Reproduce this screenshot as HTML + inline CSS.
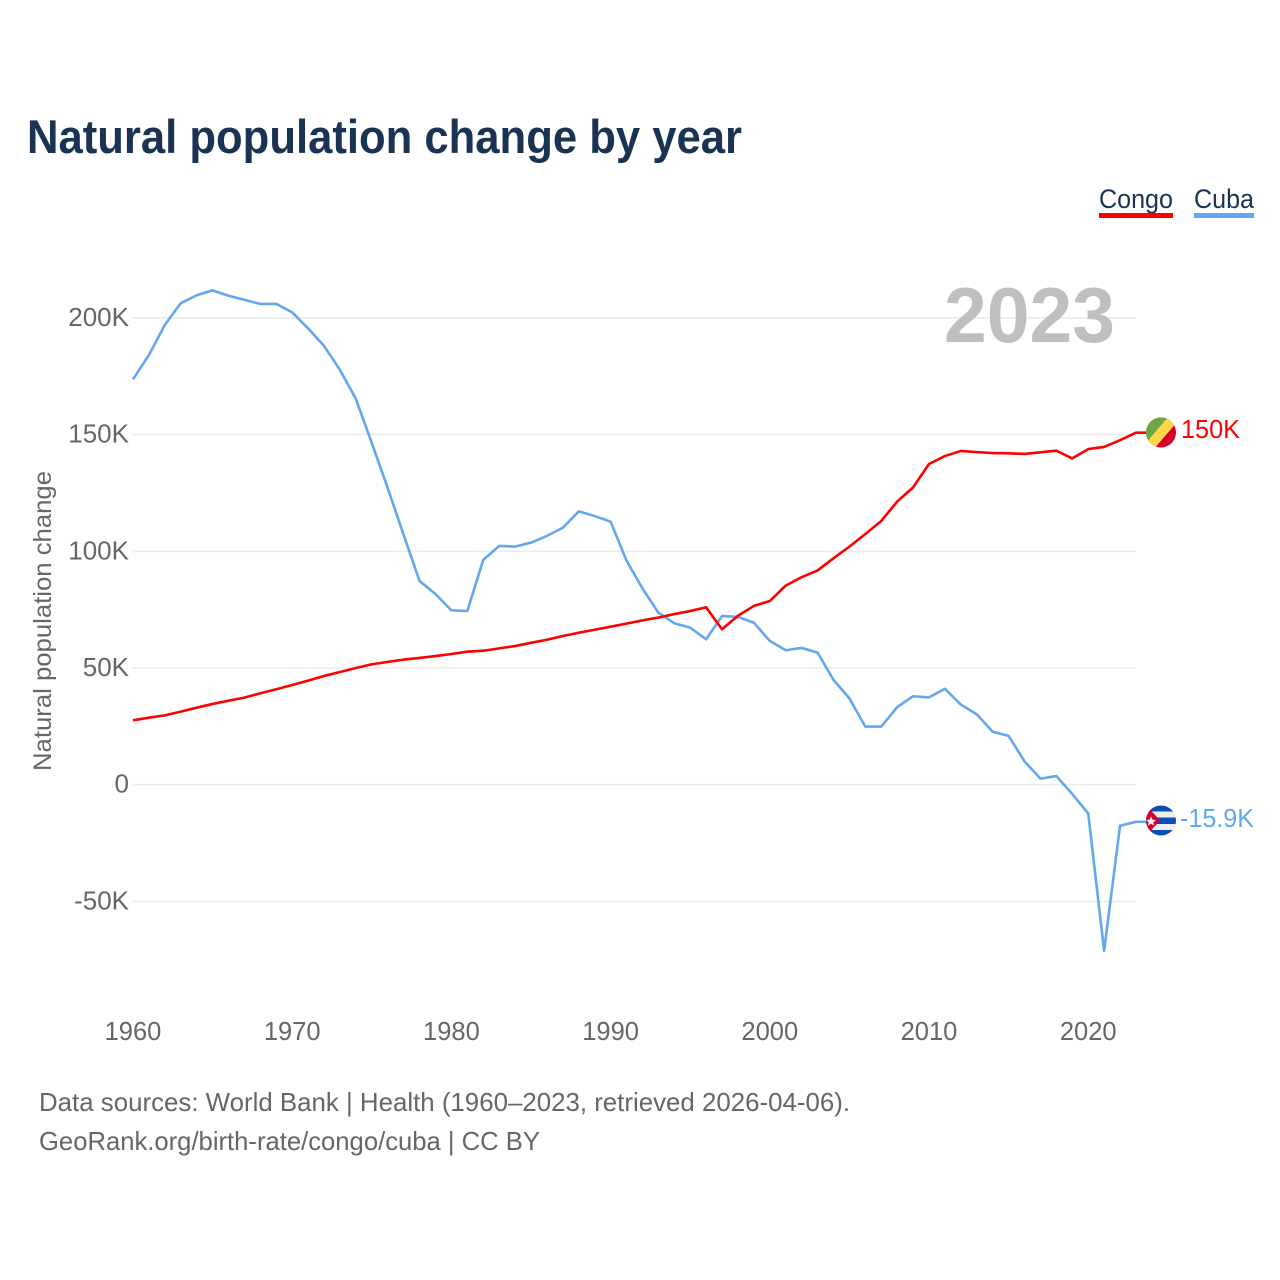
<!DOCTYPE html>
<html lang="en">
<head>
<meta charset="utf-8">
<title>Natural population change by year</title>
<style>
html,body{margin:0;padding:0;background:#fff;width:1280px;height:1280px;overflow:hidden}
svg{display:block;font-family:"Liberation Sans",sans-serif}
</style>
</head>
<body>
<svg id="chart" xmlns="http://www.w3.org/2000/svg" width="1280" height="1280" viewBox="0 0 1280 1280">
  <defs>
    <clipPath id="flag-clip-congo"><circle cx="1161" cy="432.5" r="15"/></clipPath>
    <clipPath id="flag-clip-cuba"><circle cx="1161" cy="820.5" r="15"/></clipPath>
  </defs>
  <rect width="1280" height="1280" fill="#fff"/>
  <text x="27" y="153" font-size="47" font-weight="700" fill="#1a3353" textLength="715" lengthAdjust="spacingAndGlyphs">Natural population change by year</text>

  <g>
    <g>
      <text x="1099" y="208" font-size="27" fill="#1a3353" textLength="74" lengthAdjust="spacingAndGlyphs">Congo</text>
      <rect x="1099" y="213" width="74" height="5" fill="#ff0000"/>
    </g>
    <g>
      <text x="1194" y="208" font-size="27" fill="#1a3353" textLength="60" lengthAdjust="spacingAndGlyphs">Cuba</text>
      <rect x="1194" y="213" width="60" height="5" fill="#62a8ee"/>
    </g>
  </g>

  <g id="grid"></g>
  <g id="y-ticks"></g>
  <g id="x-ticks"></g>

  <text x="944" y="342" font-size="78" font-weight="700" fill="#bfbfbf" textLength="171" lengthAdjust="spacingAndGlyphs">2023</text>
  <text transform="translate(51 621) rotate(-90)" text-anchor="middle" font-size="25" fill="#666" textLength="300" lengthAdjust="spacingAndGlyphs">Natural population change</text>

  <g id="series"></g>

  <g clip-path="url(#flag-clip-congo)">
    <rect x="1146" y="417" width="30" height="31" fill="#d6002f"/>
    <polygon points="1140,412 1173,412 1140,450" fill="#6fa644"/>
    <polygon points="1169,416 1145,444 1153,450 1178,421" fill="#ffd644"/>
  </g>
  <text id="end-label-congo" x="1181" y="438" font-size="25.5" fill="#ff0000" textLength="59" lengthAdjust="spacingAndGlyphs">150K</text>

  <g clip-path="url(#flag-clip-cuba)">
    <rect x="1146" y="805" width="30" height="31" fill="#eeeeee"/>
    <rect x="1146" y="805" width="30" height="6.5" fill="#0a50b4"/>
    <rect x="1146" y="817.5" width="30" height="6.5" fill="#0a50b4"/>
    <rect x="1146" y="830" width="30" height="6.5" fill="#0a50b4"/>
    <polygon points="1146,805 1160,820.5 1146,836" fill="#d6002f"/>
    <polygon points="1151,816.5 1152.4,819.6 1155.8,820 1153.3,822.2 1154,825.5 1151,823.8 1148,825.5 1148.7,822.2 1146.2,820 1149.6,819.6" fill="#f4f4f4"/>
  </g>
  <text id="end-label-cuba" x="1180" y="827" font-size="25.5" fill="#62a8ee" textLength="74" lengthAdjust="spacingAndGlyphs">-15.9K</text>

  <text x="39" y="1111" font-size="26" fill="#666" textLength="811" lengthAdjust="spacingAndGlyphs">Data sources: World Bank | Health (1960–2023, retrieved 2026-04-06).</text>
  <text x="39" y="1150" font-size="26" fill="#666" textLength="501" lengthAdjust="spacingAndGlyphs">GeoRank.org/birth-rate/congo/cuba | CC BY</text>
</svg>
<script>
const firstYear = 1960;
const yTickValues = [200, 150, 100, 50, 0, -50];
const yTickLabels = ['200K', '150K', '100K', '50K', '0', '-50K'];
const xTickYears = [1960, 1970, 1980, 1990, 2000, 2010, 2020];
const congoValues = [27.6, 28.7, 29.7, 31.3, 33.0, 34.6, 36.0, 37.3, 39.2, 40.9, 42.7, 44.6, 46.6, 48.3, 50.0, 51.6, 52.6, 53.6, 54.3, 55.1, 56.0, 57.0, 57.4, 58.4, 59.4, 60.8, 62.1, 63.7, 65.1, 66.4, 67.7, 69.0, 70.4, 71.6, 73.1, 74.4, 76.0, 66.6, 72.4, 76.6, 78.7, 85.3, 88.9, 91.8, 97.0, 102.0, 107.4, 113.0, 121.3, 127.4, 137.4, 140.8, 143.0, 142.5, 142.1, 142.0, 141.7, 142.4, 143.1, 139.8, 143.8, 144.7, 147.6, 150.8];
const cubaValues = [173.7, 184.1, 197.0, 206.3, 209.7, 211.8, 209.5, 207.7, 206.0, 206.0, 202.4, 195.5, 188.0, 177.7, 165.3, 146.4, 127.1, 107.0, 87.3, 81.7, 74.7, 74.4, 96.3, 102.3, 102.0, 103.7, 106.6, 110.1, 117.1, 115.1, 112.7, 96.0, 84.1, 73.7, 69.2, 67.3, 62.3, 72.3, 71.9, 69.4, 61.6, 57.6, 58.6, 56.6, 44.9, 37.0, 24.9, 24.9, 33.2, 37.9, 37.4, 41.1, 34.3, 30.2, 22.7, 20.9, 10.0, 2.6, 3.7, -4.0, -12.3, -71.1, -17.6, -15.9];

const SVG_NS = 'http://www.w3.org/2000/svg';
const plotLeft = 133;
const plotRight = 1136;
const flagTailEnd = 1146;

function xScale(year) {
  return plotLeft + (year - 1960) * 15.92;
}
function yScale(value) {
  return 784.7 - value * 2.334;
}
function make(tag, parent) {
  const el = document.createElementNS(SVG_NS, tag);
  parent.appendChild(el);
  return el;
}

const gridGroup = document.getElementById('grid');
const yTickGroup = document.getElementById('y-ticks');
yTickValues.forEach(function (value, i) {
  const line = make('line', gridGroup);
  
  
  line.setAttribute('x1', plotLeft);
  line.setAttribute('x2', plotRight);
  line.setAttribute('y1', yScale(value));
  line.setAttribute('y2', yScale(value));
  line.setAttribute('stroke', '#ececec');
  line.setAttribute('stroke-width', '1.6');

  const label = make('text', yTickGroup);
  
  
  label.setAttribute('x', 129);
  label.setAttribute('y', yScale(value) + 8);
  label.setAttribute('text-anchor', 'end');
  label.setAttribute('font-size', '26');
  label.setAttribute('fill', '#666');
  label.textContent = yTickLabels[i];
});

const xTickGroup = document.getElementById('x-ticks');
xTickYears.forEach(function (year) {
  const label = make('text', xTickGroup);
  
  
  label.setAttribute('x', xScale(year));
  label.setAttribute('y', 1040);
  label.setAttribute('text-anchor', 'middle');
  label.setAttribute('font-size', '25.5');
  label.setAttribute('fill', '#666');
  label.textContent = String(year);
});

function seriesPath(values) {
  const parts = values.map(function (v, i) {
    return (i === 0 ? 'M' : 'L') + xScale(firstYear + i).toFixed(2) + ' ' + yScale(v).toFixed(2);
  });
  parts.push('L' + flagTailEnd + ' ' + yScale(values[values.length - 1]).toFixed(2));
  return parts.join(' ');
}

const seriesGroup = document.getElementById('series');

const cubaLine = make('path', seriesGroup);


cubaLine.setAttribute('d', seriesPath(cubaValues));
cubaLine.setAttribute('fill', 'none');
cubaLine.setAttribute('stroke', '#62a8ee');
cubaLine.setAttribute('stroke-width', '2.6');
cubaLine.setAttribute('stroke-linejoin', 'round');

const congoLine = make('path', seriesGroup);


congoLine.setAttribute('d', seriesPath(congoValues));
congoLine.setAttribute('fill', 'none');
congoLine.setAttribute('stroke', '#ff0000');
congoLine.setAttribute('stroke-width', '2.6');
congoLine.setAttribute('stroke-linejoin', 'round');
</script>
</body>
</html>
